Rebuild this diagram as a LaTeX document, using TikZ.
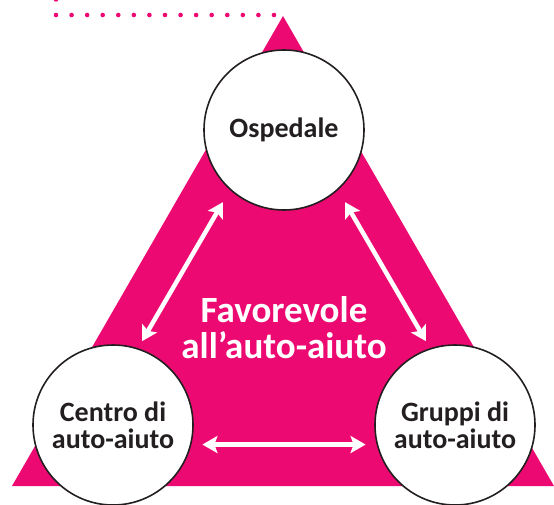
\documentclass[tikz,border=0pt]{standalone}
\usepackage{fontspec}
\setmainfont{Carlito}
\usepackage{tikz}
\usetikzlibrary{positioning, arrows.meta}
\usepackage{xcolor}
\definecolor{pinkfill}{RGB}{236,10,114}
\definecolor{ringline}{RGB}{35,31,32}

\tikzset{
  hub/.style={circle, draw=ringline, line width=1.6pt, fill=white,
    minimum size=160pt, inner sep=0pt, align=center, text=ringline,
    font=\fontsize{28}{27}\selectfont\bfseries},
  link/.style={draw=white, line width=4.5pt,
    {Stealth[length=15pt,width=17pt,inset=3pt]}-{Stealth[length=15pt,width=17pt,inset=3pt]}},
  dotline/.style={draw=pinkfill, line width=4.6pt, line cap=round,
    dash pattern=on 0pt off 15.57pt}
}

\begin{document}
\begin{tikzpicture}[x=1pt, y=-1pt]
    \useasboundingbox (0,0) rectangle (554,504);

    \coordinate (apex) at (283,16);
    \coordinate (baseL) at (12,486);
    \coordinate (baseR) at (554,486);
    \fill[pinkfill] (apex) -- (baseL) -- (baseR) -- cycle;

    \coordinate (dotA) at (56,-0.57);
    \coordinate (dotB) at (56,15);
    \coordinate (dotC) at (274,15);
    \draw[dotline] (dotA) -- (dotB) -- (dotC);

    \node[text=white, align=center, font=\fontsize{37}{36}\selectfont\bfseries]
      at (284,328) (motto) {Favorevole\\all’auto-aiuto};

    \node[hub] at (284,130) (osp) {Ospedale};
    \node[hub] at (113,425) (centro) {Centro di\\auto-aiuto};
    \node[hub] at (455,425) (gruppi) {Gruppi di\\auto-aiuto};

    \draw[link, shorten <=14pt, shorten >=8pt] (osp.228) -- (centro.72);
    \draw[link, shorten <=14pt, shorten >=8pt] (osp.312) -- (gruppi.108);
    \draw[link, shorten <=11pt, shorten >=11pt] (centro.-14) -- (gruppi.194);
  \end{tikzpicture}
\end{document}
